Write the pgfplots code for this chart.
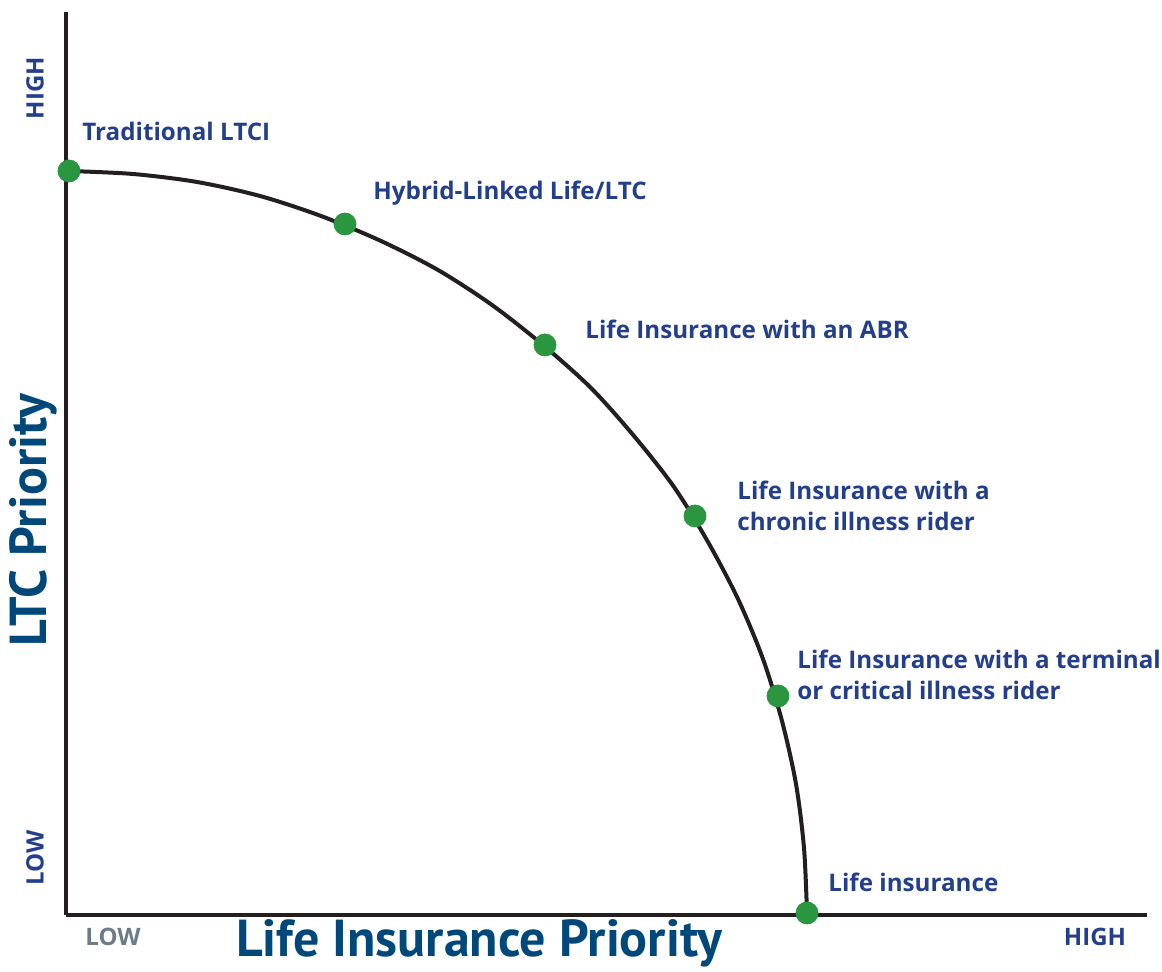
\documentclass[border=0pt]{standalone}
\usepackage{pgfplots}
\pgfplotsset{compat=1.18}
\usepackage{fontspec}
\setmainfont{Open Sans}
\newfontfamily\titlefont{PT Sans}
\definecolor{lblue}{HTML}{233E8B}
\definecolor{tnavy}{HTML}{00487A}
\definecolor{lgray}{HTML}{6D7B86}
\definecolor{pgreen}{HTML}{2A9640}
\definecolor{axblack}{HTML}{231F20}
\begin{document}
\begin{tikzpicture}[x=0.5pt,y=0.5pt]
\begin{axis}[
  scale only axis,
  width=540.5pt, height=451.5pt,
  xmin=0, xmax=1081, ymin=0, ymax=903,
  axis lines=left,
  axis line style={-, line width=2pt, color=axblack},
  xtick=\empty, ytick=\empty,
  clip=false,
]
% curve
\addplot[line width=2pt, color=axblack, smooth, tension=0.5, mark=none] coordinates {
(3,744) (67,741) (131,733) (194,719) (255,699) (315,674) (372,645) (426,610) (477,570) (525,527)
(568,479) (608,428) (642,373) (672,316) (697,256) (716,194) (730,131) (738,67) (741,2)
};
% products
\addplot[only marks, mark=*, mark size=5.5pt, color=pgreen, mark options={draw=pgreen, fill=pgreen}] coordinates {
(3,744) (279,691) (479,570) (629,399) (712,219) (741,2)
};
\begin{scope}[every node/.style={font=\bfseries\fontsize{12.1}{15.5}\selectfont, text=lblue, anchor=west, inner sep=0pt, align=left}]
\node at (axis cs:16,784) {Traditional LTCI};
\node at (axis cs:307,722) {Hybrid-Linked Life/LTC};
\node at (axis cs:519,586) {Life Insurance with an ABR};
\node at (axis cs:671,409) {Life Insurance with a\\chronic illness rider};
\node at (axis cs:731,240) {Life Insurance with a terminal\\or critical illness rider};
\node at (axis cs:762,33) {Life insurance};
\end{scope}
\node[font=\bfseries\fontsize{12}{14}\selectfont, text=lblue, rotate=90, inner sep=0pt] at (axis cs:-31,827) {HIGH};
\node[font=\bfseries\fontsize{12}{14}\selectfont, text=lblue, rotate=90, inner sep=0pt] at (axis cs:-31,57) {LOW};
\node[font=\bfseries\fontsize{12}{14}\selectfont, text=lgray, inner sep=0pt] at (axis cs:47,-22) {LOW};
\node[font=\bfseries\fontsize{12}{14}\selectfont, text=lblue, inner sep=0pt] at (axis cs:1029,-22) {HIGH};
\node[font=\titlefont\bfseries\fontsize{26}{30}\selectfont, text=tnavy, rotate=90, inner sep=0pt] at (axis cs:-33,395) {LTC Priority};
\node[font=\titlefont\bfseries\fontsize{26}{30}\selectfont, text=tnavy, inner sep=0pt] at (axis cs:413,-28) {Life Insurance Priority};
\coordinate (bl) at (axis cs:-66,-57);
\coordinate (tr) at (axis cs:1096,915);
\end{axis}
\pgfresetboundingbox
\path[use as bounding box] (bl) rectangle (tr);
\end{tikzpicture}
\end{document}
